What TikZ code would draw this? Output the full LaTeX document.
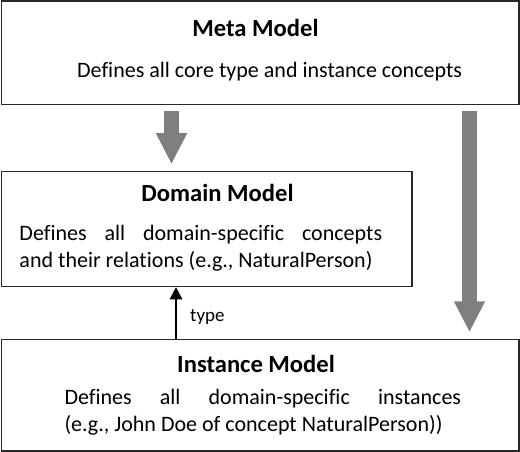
\documentclass[tikz,border=0pt]{standalone}
\usepackage{fontspec}
\setmainfont{Carlito}[Ligatures=NoCommon]
\usetikzlibrary{arrows.meta}
\definecolor{arrowgray}{RGB}{127,127,127}
\definecolor{boxline}{RGB}{40,40,40}
\tikzset{
  box/.style={draw=boxline, line width=1.5bp, fill=white, rectangle, inner sep=0pt},
  titletext/.style={inner sep=0pt, anchor=base, font=\fontsize{24.7}{30}\selectfont\bfseries},
  bodytext/.style={inner sep=0pt, anchor=base west, font=\fontsize{22.1}{27}\selectfont},
  labeltext/.style={inner sep=0pt, anchor=base west, font=\fontsize{19}{23}\selectfont},
  bigarrow/.style={draw=arrowgray, line width=15bp, -{Triangle[width=29bp, length=31bp]}, arrowgray},
  typearrow/.style={draw=black, line width=1.3bp, -{Triangle[width=12.5bp, length=12bp]}}
}
\begin{document}
\begin{tikzpicture}[x=1bp, y=-1bp]
\useasboundingbox (0,0) rectangle (520,452);
% boxes
\node[box, minimum width=517.5bp, minimum height=103.5bp] (meta) at (260.25,52.75) {};
\node[box, minimum width=410.5bp, minimum height=115bp] (domain) at (206.75,229) {};
\node[box, minimum width=517.5bp, minimum height=111.5bp] (instance) at (260.25,395.25) {};
% texts
\node[titletext] (metatitle) at (255.5,36.7) {Meta Model};
\node[bodytext] (metabody) at (77,78) {Defines all core type and instance concepts};
\node[titletext] (domaintitle) at (217.5,202) {Domain Model};
\node[bodytext] (domainbodya) at (19.3,240.5) {\hbox to 362.7bp{Defines\hfill all\hfill domain-specific\hfill concepts}};
\node[bodytext] (domainbodyb) at (19.3,267.5) {and their relations (e.g., NaturalPerson)};
\node[titletext] (instancetitle) at (256,372.5) {Instance Model};
\node[bodytext] (instancebodya) at (64.3,404) {\hbox to 396.7bp{Defines\hfill all\hfill domain-specific\hfill instances}};
\node[bodytext] (instancebodyb) at (64.3,431) {(e.g., John Doe of concept NaturalPerson))};
% connectors
\coordinate (ax1) at (171.5,0);
\coordinate (ax2) at (469.5,0);
\coordinate (ax3) at (176,0);
\draw[bigarrow, shorten <=5.5bp, shorten >=6.5bp] (meta.south -| ax1) -- (domain.north -| ax1);
\draw[bigarrow, shorten <=5.5bp, shorten >=6.5bp] (meta.south -| ax2) -- (instance.north -| ax2);
\draw[typearrow] (instance.north -| ax3) -- (domain.south -| ax3);
\node[labeltext] (typelabel) at (190,321) {type};
\end{tikzpicture}
\end{document}
